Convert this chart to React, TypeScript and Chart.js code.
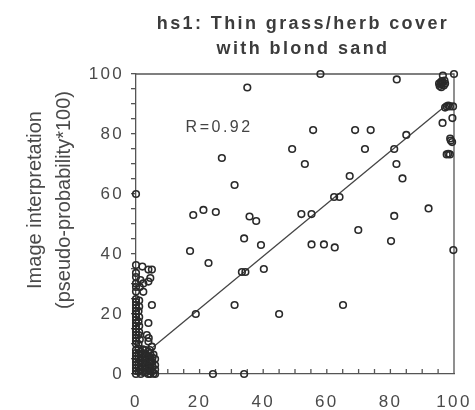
import { useEffect, useRef } from 'react';
import { Chart, registerables } from 'chart.js';

Chart.register(...registerables);

// ---------- text ----------
const TITLE_LINES = ['hs1: Thin grass/herb cover', 'with blond sand'];
const Y_TITLE_LINES = ['Image interpretation', '(pseudo-probability*100)'];
const R_TEXT = 'R=0.92';
const R_POS = [15.6, 80.8]; // annotation anchor in data units

// ---------- axes ----------
const AXIS_MIN = 0;
const AXIS_MAX = 100;
const MAJOR_STEP = 20;
const MINOR_STEP = 5;

// ---------- data: [x, y] ----------
const midPoints: number[][] = [
  [35, 95.5], [27, 72], [31, 63], [18, 53], [21.2, 54.7], [25.1, 54],
  [35.7, 52.5], [37.8, 51], [34, 45.2], [39.3, 43], [17, 41], [22.8, 37],
  [33.3, 34], [34.4, 34], [40.2, 35], [31, 23], [18.8, 20], [45, 20],
  [24.2, 0], [34, 0], [0, 60], [58, 100], [82, 98.2], [55.7, 81.3],
  [68.9, 81.3], [73.8, 81.3], [85, 79.7], [49.1, 75], [72, 75], [81.2, 75],
  [53.1, 70], [81.9, 70], [67.2, 66], [83.8, 65.2], [62.3, 59], [64, 59],
  [52, 53.3], [55.2, 53.3], [92, 55.2], [81.2, 52.7], [69.9, 48], [80.2, 44.3],
  [55.2, 43.2], [59.1, 43.2], [62.5, 42.2], [99.8, 41.3], [65.1, 23],
];

const rightCluster: number[][] = [
  [96.5, 99.5], [100, 100], [95.5, 96], [96, 96.6], [96.5, 97.2], [97, 97.8],
  [95.8, 97.2], [96.8, 96.2], [95.3, 96.8], [96.2, 97.6], [97.2, 96.8], [96, 95.6],
  [97.7, 89.2], [98.7, 89.2], [99.7, 89.2], [98.2, 89.5], [97.2, 88.8],
  [96.4, 83.7], [99.5, 85.3], [98.8, 78.5], [99.4, 77.3], [99, 77.8],
  [97.7, 73.2], [98.7, 73.2], [98.2, 73.4],
];

const leftUpper: number[][] = [
  [0, 36.3], [0, 33.7], [0, 32.3], [0, 30.2], [0, 29], [0, 27.5],
  [2, 35.8], [3.9, 34.8], [5, 34.8], [1.4, 31.3], [2.3, 30.2], [3.9, 30.8],
  [4.5, 32], [1.2, 29], [2.3, 27.4], [5, 23], [3.9, 17], [3.4, 13],
  [4, 12], [3.9, 10.8], [5, 9.1], [4.4, 8],
];

const leftColumn: number[][] = [
  [0, 25], [0, 24], [0, 23], [0, 22], [0, 21], [0, 20], [0, 19], [0, 18],
  [0, 17], [0, 16], [0, 15], [0, 14], [0, 13], [0, 12], [0, 11], [0, 10],
  [1, 24.5], [1, 22.5], [0.8, 21], [1, 19], [0.8, 17.5], [1, 16], [1, 14],
  [0.8, 13], [1.2, 11.5], [0.8, 10],
];

const leftBottom: number[][] = [
  [0, 8], [0, 7], [0, 6], [0, 5], [0, 4], [0, 3], [0, 2], [0, 1], [0, 0],
  [1.5, 7.5], [1.5, 6], [1.5, 4.5], [1.5, 3], [1.5, 1.5], [1.5, 0],
  [3, 8], [3, 6.5], [3, 5], [3, 3.5], [3, 2], [3, 0.5],
  [4.5, 7], [4.5, 5.5], [4.5, 4], [4.5, 2.5], [4.5, 1], [4.5, 0],
  [6, 5], [6, 3], [6, 1.5], [6, 0], [5.5, 6.5],
  [0.8, 8.5], [0.8, 6.8], [0.8, 5.2], [0.8, 3.8], [0.8, 2.2], [0.8, 0.8],
  [2.2, 8.2], [2.2, 6.7], [2.2, 5.3], [2.2, 3.7], [2.2, 2.3], [2.2, 0.7],
  [3.8, 7.5], [3.8, 6], [3.8, 4.5], [3.8, 3], [3.8, 1.5], [3.8, 0],
  [5.2, 5.5], [5.2, 4], [5.2, 2.5], [5.2, 1], [5.5, 0.2],
];

// regression line endpoints
const LINE_X = [5.4, 98];
const LINE_Y = [9, 90];

// ---------- style ----------
const FONT = '"Liberation Sans", Arial, Helvetica, sans-serif';
const AXIS_COLOR = '#555';
const TEXT_COLOR = '#4a4a4a';
const MARK_COLOR = '#2a2a2a';

const decor = {
  id: 'decor',
  beforeDraw(chart: any) {
    chart.ctx.letterSpacing = '2.3px';
  },
  beforeDatasetsDraw(chart: any) {
    const { ctx, chartArea: a, scales } = chart;
    const x = scales.x;
    ctx.save();
    ctx.strokeStyle = AXIS_COLOR;
    ctx.lineWidth = 1.3;
    ctx.beginPath();
    ctx.moveTo(a.left, a.top);
    ctx.lineTo(a.right, a.top);
    ctx.lineTo(a.right, a.bottom);
    for (let v = AXIS_MIN; v <= AXIS_MAX; v += MINOR_STEP) {
      const px = x.getPixelForValue(v);
      ctx.moveTo(px, a.bottom);
      ctx.lineTo(px, a.bottom - 5);
    }
    ctx.stroke();
    ctx.restore();
  },
  afterDraw(chart: any) {
    const { ctx, chartArea: a, scales } = chart;
    const x = scales.x;
    const y = scales.y;
    ctx.save();
    // title
    ctx.fillStyle = '#3c3c3c';
    ctx.font = `bold 18px ${FONT}`;
    ctx.letterSpacing = '2.4px';
    ctx.textAlign = 'center';
    ctx.textBaseline = 'alphabetic';
    const cx = (a.left + a.right) / 2 + 8;
    ctx.fillText(TITLE_LINES[0], cx, 28.5);
    ctx.fillText(TITLE_LINES[1], cx, 53.5);
    // R annotation
    ctx.font = `16px ${FONT}`;
    ctx.letterSpacing = '2.5px';
    ctx.textAlign = 'left';
    ctx.fillStyle = '#444';
    ctx.fillText(R_TEXT, x.getPixelForValue(R_POS[0]), y.getPixelForValue(R_POS[1]));
    // y axis title
    ctx.letterSpacing = '0px';
    ctx.font = `20px ${FONT}`;
    ctx.fillStyle = TEXT_COLOR;
    ctx.textAlign = 'center';
    const cy = (a.top + a.bottom) / 2 - 24;
    const baseXs = [40.5, 69.5];
    Y_TITLE_LINES.forEach((t, i) => {
      ctx.save();
      ctx.translate(baseXs[i], cy);
      ctx.rotate(-Math.PI / 2);
      ctx.fillText(t, 0, 0);
      ctx.restore();
    });
    ctx.restore();
  },
};

const toXY = (arr: number[][]) => arr.map(([px, py]) => ({ x: px, y: py }));

export default function App() {
  const ref = useRef<HTMLCanvasElement | null>(null);

  useEffect(() => {
    if (!ref.current) return;
    document.body.style.margin = '0';
    document.body.style.overflow = 'hidden';
    Chart.defaults.font.family = FONT;
    const points = [
      ...toXY(midPoints),
      ...toXY(rightCluster),
      ...toXY(leftUpper),
      ...toXY(leftColumn),
      ...toXY(leftBottom),
    ];
    const line = LINE_X.map((lx, i) => ({ x: lx, y: LINE_Y[i] }));

    const chart = new Chart(ref.current, {
      type: 'scatter',
      data: {
        datasets: [
          {
            type: 'line',
            data: line,
            borderColor: '#444',
            borderWidth: 1.3,
            pointRadius: 0,
            fill: false,
            clip: false,
            order: 2,
          } as any,
          {
            type: 'scatter',
            data: points,
            pointStyle: 'circle',
            pointRadius: 3.3,
            pointBorderWidth: 1.6,
            borderColor: MARK_COLOR,
            backgroundColor: 'rgba(0,0,0,0)',
            clip: false,
            order: 1,
          } as any,
        ],
      },
      options: {
        animation: false,
        responsive: false,
        devicePixelRatio: 1,
        layout: { padding: { top: 74, right: 21, left: 0, bottom: 0 } },
        plugins: {
          legend: { display: false },
          title: { display: false },
          tooltip: { enabled: false },
        },
        scales: {
          x: {
            type: 'linear',
            min: AXIS_MIN,
            max: AXIS_MAX,
            ticks: {
              stepSize: MAJOR_STEP,
              color: TEXT_COLOR,
              font: { size: 17 },
              padding: 18.5,
              maxRotation: 0,
            },
            grid: { display: false, drawTicks: false },
            border: { display: true, color: AXIS_COLOR, width: 1.3 },
            afterFit(scale: any) {
              scale.height = 36;
              scale.paddingLeft = 0;
              scale.paddingRight = 0;
            },
          },
          y: {
            type: 'linear',
            min: AXIS_MIN,
            max: AXIS_MAX,
            ticks: {
              stepSize: MINOR_STEP,
              autoSkip: false,
              color: TEXT_COLOR,
              font: { size: 17 },
              padding: 7,
              callback: (v: any) => (Number(v) % MAJOR_STEP === 0 ? String(v) : ''),
            },
            grid: {
              drawOnChartArea: false,
              drawTicks: true,
              tickLength: 5,
              color: AXIS_COLOR,
              lineWidth: 1.3,
            },
            border: { display: true, color: AXIS_COLOR, width: 1.3 },
            afterFit(scale: any) {
              scale.width = 136;
              scale.paddingTop = 0;
              scale.paddingBottom = 0;
            },
          },
        },
      },
      plugins: [decor],
    } as any);

    return () => chart.destroy();
  }, []);

  return (
    <div style={{ width: 475, height: 410 }}>
      <canvas ref={ref} width={475} height={410} style={{ display: 'block' }} />
    </div>
  );
}
